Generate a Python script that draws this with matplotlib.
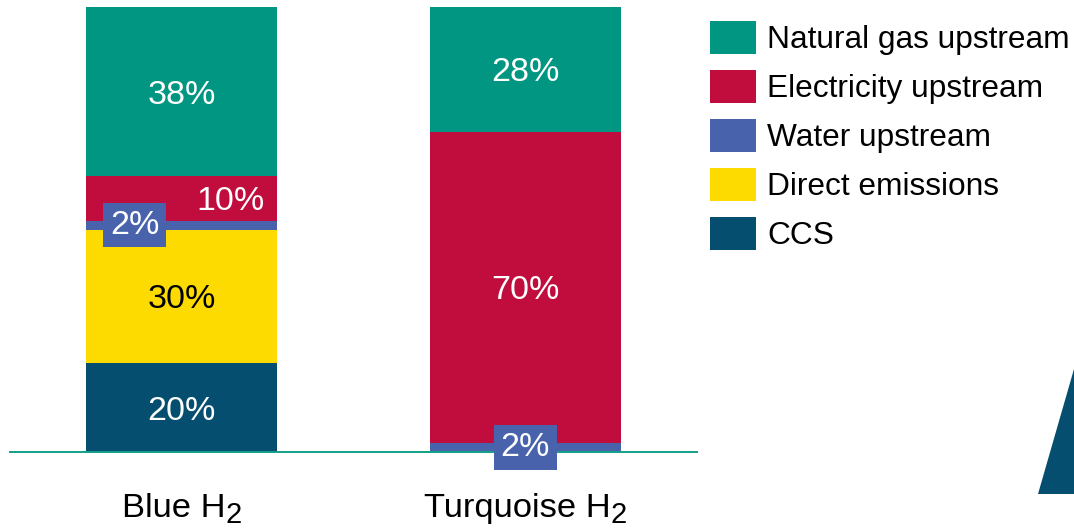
import matplotlib
matplotlib.use('Agg')
import matplotlib.pyplot as plt
import matplotlib.transforms as mtransforms
from matplotlib.patches import Polygon

plt.rcParams['font.family'] = ['Liberation Sans', 'DejaVu Sans']

# ---- data ----
categories = ['Blue H', 'Turquoise H']
category_subscripts = ['2', '2']
series_names = ['Natural gas upstream', 'Electricity upstream', 'Water upstream',
                'Direct emissions', 'CCS']
natural_gas = [38, 28]
electricity = [10, 70]
water = [2, 2]
direct = [30, 0]
ccs = [20, 0]

# ---- styles ----
colors = {
    'Natural gas upstream': '#009681',
    'Electricity upstream': '#C00D3D',
    'Water upstream': '#4863AB',
    'Direct emissions': '#FDDA00',
    'CCS': '#054E6F',
}
text_colors = {
    'Natural gas upstream': 'white',
    'Electricity upstream': 'white',
    'Water upstream': 'white',
    'Direct emissions': 'black',
    'CCS': 'white',
}
# label x-offsets (in category units) and boxed labels
label_dx = {('Electricity upstream', 0): 0.141, ('Water upstream', 0): -0.137}
boxed = {'Water upstream'}

W, H = 1074, 529
fig = plt.figure(figsize=(W / 100, H / 100), dpi=100)
ax = fig.add_axes([10 / W, (H - 452) / H, 687 / W, 445 / H])
ax.set_xlim(-0.5, 1.5)
ax.set_ylim(0, 100)
ax.axis('off')

x = list(range(len(categories)))
bar_width = 191 / 344

down = ax.transData + mtransforms.ScaledTranslation(0, -3.5 / 100, fig.dpi_scale_trans)

stack = [('CCS', ccs), ('Direct emissions', direct), ('Water upstream', water),
         ('Electricity upstream', electricity), ('Natural gas upstream', natural_gas)]
bottoms = [0] * len(x)
handles = {}
for name, vals in stack:
    bc = ax.bar(x, vals, bar_width, bottom=bottoms, color=colors[name],
                linewidth=0, label=name, zorder=2)
    handles[name] = bc
    for i, v in enumerate(vals):
        if v <= 0:
            continue
        dx = label_dx.get((name, i), 0)
        kw = {}
        if name in boxed:
            kw['bbox'] = dict(boxstyle='square,pad=0.2', fc=colors[name], ec='none')
            tr = ax.transData
        else:
            tr = down
        ax.text(i + dx, bottoms[i] + v / 2, f'{v}%', ha='center', va='center',
                fontsize=24.5, color=text_colors[name], zorder=5, transform=tr, **kw)
    bottoms = [b + v for b, v in zip(bottoms, vals)]

# baseline
ax.axhline(0, color='#13A088', lw=1.4, zorder=3, clip_on=False)

# legend
leg = fig.legend([handles[n] for n in series_names], series_names,
                 loc='upper left', bbox_to_anchor=(710 / W, 1 - 21 / H),
                 frameon=False, fontsize=22.8, borderpad=0, borderaxespad=0,
                 handlelength=1.45, handleheight=1.25, handletextpad=0.35,
                 labelspacing=0.46)

# category labels with subscripts
trans = mtransforms.blended_transform_factory(ax.transData, ax.transAxes)
labels = []
for i, (cat, sub) in enumerate(zip(categories, category_subscripts)):
    t = ax.text(i, -65 / 445, cat, transform=trans, ha='left', va='baseline',
                fontsize=24.8, color='black')
    s = ax.annotate(sub, xy=(1, 0), xycoords=t, xytext=(0, 1.0),
                    textcoords='offset points', ha='left', va='baseline',
                    fontsize=21, color='black')
    labels.append((t, s))

fig.canvas.draw()
for t, s in labels:
    e1 = t.get_window_extent()
    e2 = s.get_window_extent()
    total = e2.x1 - e1.x0
    t.set_transform(trans + mtransforms.ScaledTranslation(-total / 2 / fig.dpi, 0,
                                                          fig.dpi_scale_trans))

# decorative triangle
tri = Polygon([(1038 / W, 1 - 494 / H), (1.0, 1 - 494 / H), (1.0, 1 - 369 / H)],
              closed=True, transform=fig.transFigure, facecolor='#054E6F',
              edgecolor='none')
fig.add_artist(tri)

fig.savefig('out.png', dpi=100)
